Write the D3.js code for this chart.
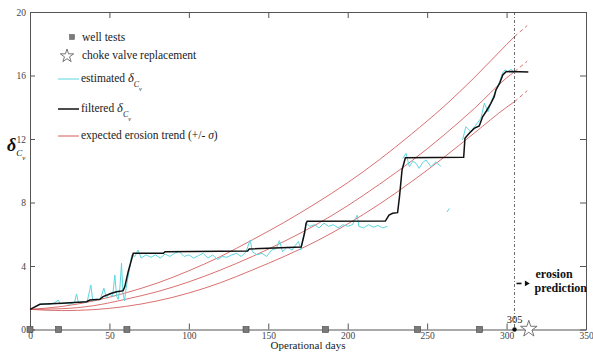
<!DOCTYPE html>
<html>
<head>
<meta charset="utf-8">
<script src="https://cdn.jsdelivr.net/npm/d3@7"></script>
<style>
body { margin: 0; background: #fff; }
svg, svg text { font-family: "Liberation Serif", "DejaVu Serif", serif; }
</style>
</head>
<body>
<div id="chart"></div>
<script>
/* axis ticks */
var xTicks = [0, 50, 100, 150, 200, 250, 300, 350]
var yTicks = [0, 4, 8, 12, 16, 20]

/* markers */
var wellTestDays = [0, 18, 61, 136, 186, 244, 283]
var predictionDay = 305
var valveDay = 314

/* expected erosion trend (+/- sigma) */
var trendDays  = [0, 20, 40, 60, 80, 100, 120, 140, 160, 180, 200, 220, 240, 260, 280, 300, 305, 313]
var trendUpper = [1.27, 1.45, 1.8, 2.3, 2.92, 3.7, 4.6, 5.65, 6.75, 7.95, 9.25, 10.7, 12.3, 14.0, 15.9, 17.95, 18.45, 19.15]
var trendMid   = [1.27, 1.31, 1.5, 1.9, 2.38, 3.0, 3.75, 4.6, 5.55, 6.6, 7.8, 9.15, 10.6, 12.2, 13.95, 15.85, 16.24, 16.9]
var trendLower = [1.27, 1.19, 1.25, 1.45, 1.8, 2.3, 2.95, 3.75, 4.6, 5.55, 6.65, 7.9, 9.3, 10.8, 12.4, 14.0, 14.35, 15.04]

/* filtered delta Cv */
var filtDays = [0, 6.3, 20, 35.6, 37.7, 44, 46, 51.3, 54.5, 57.6, 58.6, 59.7, 61.8, 65, 84, 85, 137, 138, 170.7, 171.8, 172.8, 173.8, 174.5,
  223.7, 226, 228.3, 231.4, 232.6, 234.2, 236.3, 273, 273.8, 276.5, 279.6, 282.8, 284.9, 287.4, 290.1, 292.2, 293.3, 295.6, 297.6, 299.7, 302.7, 313.7]
var filtValues = [1.27, 1.59, 1.65, 1.75, 1.86, 1.9, 2.07, 2.28, 2.38, 2.42, 2.45, 2.7, 3.64, 4.8, 4.8, 4.9, 4.95, 5.07, 5.2, 5.64, 6.06, 6.69, 6.82,
  6.83, 7.21, 7.32, 7.36, 8.37, 10.05, 10.82, 10.85, 12.04, 12.36, 12.67, 12.82, 13.4, 13.78, 14.25, 14.67, 15.09, 15.5, 16.03, 16.24, 16.25, 16.22]

/* estimated delta Cv (null = gap) */
var estDays = [3, 6, 9, 12, 15, 17.8, 19, 22, 25, 28, 29.3, 30.5, 33, 36, 38.3, 39.5, 42, 44, 46.5, 48, 50, 52, 53.4, 54.5, 55.5, 56.5, 57.6, 58.5, 59.5, 60.5, 61.5, 63, 64,
  66, 68, 70, 73, 76, 79, 82, 85, 88, 91, 94, 97, 100, 103, 106, 109, 112, 115, 118, 121, 124, 127, 130, 133, 136, 138.6, 140, 143, 146, 149, 152, 155, 157, 159,
  162, 165, 167, 169, 170.5, 172, 174, 176, 179, 182, 185, 188, 191, 194, 197, 200, 203, 206, 207, 210, 213, 216, 219, 222, 225, 226,
  234.6, 236.7, 238.8, 241, 243, 245, 247, 249.3, 252.4, 255.6, 258.7, 259,
  262.5, 264, 265,
  272.3, 274.4, 277.5, 280.7, 283.8, 286, 288.3, 290.4, 293.3, 295.6, 297.4, 299, 301, 302.7, 305]
var estValues = [1.45, 1.6, 1.62, 1.58, 1.66, 1.85, 1.62, 1.65, 1.6, 1.7, 2.24, 1.68, 1.72, 1.75, 2.8, 1.82, 1.9, 1.85, 2.6, 2.0, 2.25, 2.1, 3.43, 2.1, 1.9, 2.5, 4.17, 2.3, 1.8, 2.6, 3.2, 4.0, 4.7,
  4.6, 5.0, 4.5, 4.7, 4.55, 4.7, 4.5, 4.75, 4.6, 4.8, 4.9, 4.6, 4.7, 4.5, 4.65, 4.8, 4.5, 4.7, 4.4, 4.6, 4.55, 4.7, 4.8, 4.6, 4.9, 5.64, 4.9, 4.7, 4.8, 4.6, 5.0, 5.1, 5.6, 4.9,
  5.2, 5.0, 5.3, 5.55, 5.0, 5.8, 6.7, 6.5, 6.6, 6.4, 6.7, 6.5, 6.6, 6.4, 6.6, 6.5, 6.6, 7.2, 6.5, 6.4, 6.6, 6.45, 6.55, 6.4, 6.5, null,
  10.78, 11.1, 10.26, 10.6, 10.47, 10.15, 10.5, 10.68, 10.26, 10.57, 10.26, null,
  7.4, 7.63, null,
  11.94, 12.78, 12.46, 12.88, 13.3, 14.25, 13.72, 14.35, 15.09, 15.6, 16.14, 16.35, 16.24, 16.39, 16.2]

var margin = {top: 12, right: 7, bottom: 22.5, left: 30},
    width = 593 - margin.left - margin.right,
    height = 352 - margin.top - margin.bottom;

var svg = d3.select("#chart").append("svg")
    .attr("width", 593)
    .attr("height", 352)

var g = svg.append("g")
    .attr("transform", "translate(" + margin.left + "," + margin.top + ")")

var x = d3.scaleLinear().domain([0, 350]).range([0, width])
var y = d3.scaleLinear().domain([0, 20]).range([height, 0])

/* frame with inward ticks */
g.append("g").attr("transform", "translate(0," + height + ")")
    .call(d3.axisBottom(x).tickValues(xTicks).tickSizeInner(-6).tickSizeOuter(0).tickPadding(3))
g.append("g")
    .call(d3.axisTop(x).tickValues(xTicks).tickSizeInner(-6).tickSizeOuter(0).tickFormat(""))
g.append("g")
    .call(d3.axisLeft(y).tickValues(yTicks).tickSizeInner(-5).tickSizeOuter(0).tickPadding(4))
g.append("g").attr("transform", "translate(" + width + ",0)")
    .call(d3.axisRight(y).tickValues(yTicks).tickSizeInner(-6).tickSizeOuter(0).tickFormat(""))

g.selectAll(".domain").attr("stroke", "#555")
g.selectAll(".tick line").attr("stroke", "#555")
g.selectAll(".tick text").attr("fill", "#444")
g.selectAll("g").attr("font-family", "Liberation Serif").attr("font-size", 9.5)

/* trend curves: solid up to prediction day, dashed after */
var trendLine = d3.line()
    .x(function(d) { return x(d[0]) })
    .y(function(d) { return y(d[1]) })
    .curve(d3.curveMonotoneX)

;[trendUpper, trendMid, trendLower].forEach(function(vals) {
    var pts = trendDays.map(function(d, i) { return [d, vals[i]] })
    g.append("path")
        .attr("d", trendLine(pts.filter(function(p) { return p[0] <= predictionDay })))
        .attr("fill", "none").attr("stroke", "#cf4b4b").attr("stroke-width", 0.8)
    g.append("path")
        .attr("d", trendLine(pts.filter(function(p) { return p[0] >= predictionDay })))
        .attr("fill", "none").attr("stroke", "#cf4b4b").attr("stroke-width", 0.8)
        .attr("stroke-dasharray", "4,3")
})

/* estimated */
var estLine = d3.line()
    .defined(function(d) { return d[1] !== null })
    .x(function(d) { return x(d[0]) })
    .y(function(d) { return y(d[1]) })

g.append("path")
    .attr("d", estLine(estDays.map(function(d, i) { return [d, estValues[i]] })))
    .attr("fill", "none").attr("stroke", "#5cd6de").attr("stroke-width", 1)

/* filtered */
g.append("path")
    .attr("d", d3.line().x(function(d) { return x(d[0]) }).y(function(d) { return y(d[1]) })(filtDays.map(function(d, i) { return [d, filtValues[i]] })))
    .attr("fill", "none").attr("stroke", "#111").attr("stroke-width", 1.5)

/* prediction line */
g.append("line")
    .attr("x1", x(predictionDay)).attr("x2", x(predictionDay))
    .attr("y1", 0).attr("y2", height)
    .attr("stroke", "#444").attr("stroke-width", 0.8).attr("stroke-dasharray", "3,2,1,2")

g.append("circle").attr("cx", x(predictionDay)).attr("cy", height).attr("r", 2.2).attr("fill", "#111")
g.append("text").attr("x", x(predictionDay)).attr("y", height - 7)
    .attr("text-anchor", "middle").style("font-size", "10.5px").attr("fill", "#222").text(predictionDay)

/* well tests */
g.selectAll(".well").data(wellTestDays).enter().append("rect")
    .attr("class", "well")
    .attr("x", function(d) { return x(d) - 3 })
    .attr("y", height - 3)
    .attr("width", 6).attr("height", 6)
    .attr("fill", "#7a7a7a").attr("stroke", "#444").attr("stroke-width", 0.6)

/* valve replacement star */
var star = d3.symbol().type(d3.symbolStar).size(85)
g.append("path").attr("d", star())
    .attr("transform", "translate(" + x(valveDay) + "," + (height - 0.5) + ")")
    .attr("fill", "#fff").attr("stroke", "#666").attr("stroke-width", 0.9)

/* erosion prediction note */
var ax = x(predictionDay)
g.append("line").attr("x1", ax + 2).attr("x2", ax + 7).attr("y1", y(2.9)).attr("y2", y(2.9))
    .attr("stroke", "#111").attr("stroke-width", 1.6)
g.append("path").attr("d", d3.symbol().type(d3.symbolTriangle).size(14)())
    .attr("transform", "translate(" + (ax + 12) + "," + y(2.9) + ") rotate(90)").attr("fill", "#111")
g.append("text").attr("x", ax + 21).attr("y", y(3.25)).style("font-size", "12px").style("font-weight", "bold").attr("fill", "#111").text("erosion")
g.append("text").attr("x", ax + 20).attr("y", y(2.35)).style("font-size", "12px").style("font-weight", "bold").attr("fill", "#111").text("prediction")

/* axis titles */
svg.append("text").attr("x", margin.left + width / 2).attr("y", 349)
    .attr("text-anchor", "middle").style("font-size", "11px").attr("fill", "#222").text("Operational days")

var yl = svg.append("text").attr("x", 7).attr("y", 151).attr("fill", "#111")
yl.append("tspan").style("font-size", "18px").style("font-weight", "bold").style("font-style", "italic").text("δ")
yl.append("tspan").attr("dy", 5).style("font-size", "9px").style("font-style", "italic").text("C")
yl.append("tspan").attr("dy", 4).style("font-size", "7px").style("font-style", "italic").text("ν")

/* legend */
var leg = svg.append("g").style("font-size", "11.5px").attr("fill", "#1a1a1a")
leg.append("rect").attr("x", 69.5).attr("y", 34.5).attr("width", 5).attr("height", 5).attr("fill", "#7a7a7a").attr("stroke", "#555").attr("stroke-width", 0.5)
leg.append("text").attr("x", 82).attr("y", 41).text("well tests")
leg.append("path").attr("d", d3.symbol().type(d3.symbolStar).size(55)())
    .attr("transform", "translate(67,56)").attr("fill", "#fff").attr("stroke", "#666").attr("stroke-width", 0.9)
leg.append("text").attr("x", 82).attr("y", 59).text("choke valve replacement")

var legLines = [
    {y: 79, color: "#5cd6de", w: 1, label: "estimated ", sub: true},
    {y: 109, color: "#111", w: 1.5, label: "filtered ", sub: true},
    {y: 136, color: "#cf4b4b", w: 0.9, label: "expected erosion trend (+/- ", sub: false}
]
legLines.forEach(function(l) {
    leg.append("line").attr("x1", 58).attr("x2", 79).attr("y1", l.y).attr("y2", l.y)
        .attr("stroke", l.color).attr("stroke-width", l.w)
    var t = leg.append("text").attr("x", 81).attr("y", l.y + 3)
    t.append("tspan").text(l.label)
    if (l.sub) {
        t.append("tspan").style("font-style", "italic").style("font-size", "12.5px").text("δ")
        t.append("tspan").attr("dy", 5).style("font-style", "italic").style("font-size", "8px").text("C")
        t.append("tspan").attr("dy", 4).style("font-style", "italic").style("font-size", "6px").text("ν")
    } else {
        t.append("tspan").style("font-style", "italic").text("σ")
        t.append("tspan").text(")")
    }
})
</script>
</body>
</html>
